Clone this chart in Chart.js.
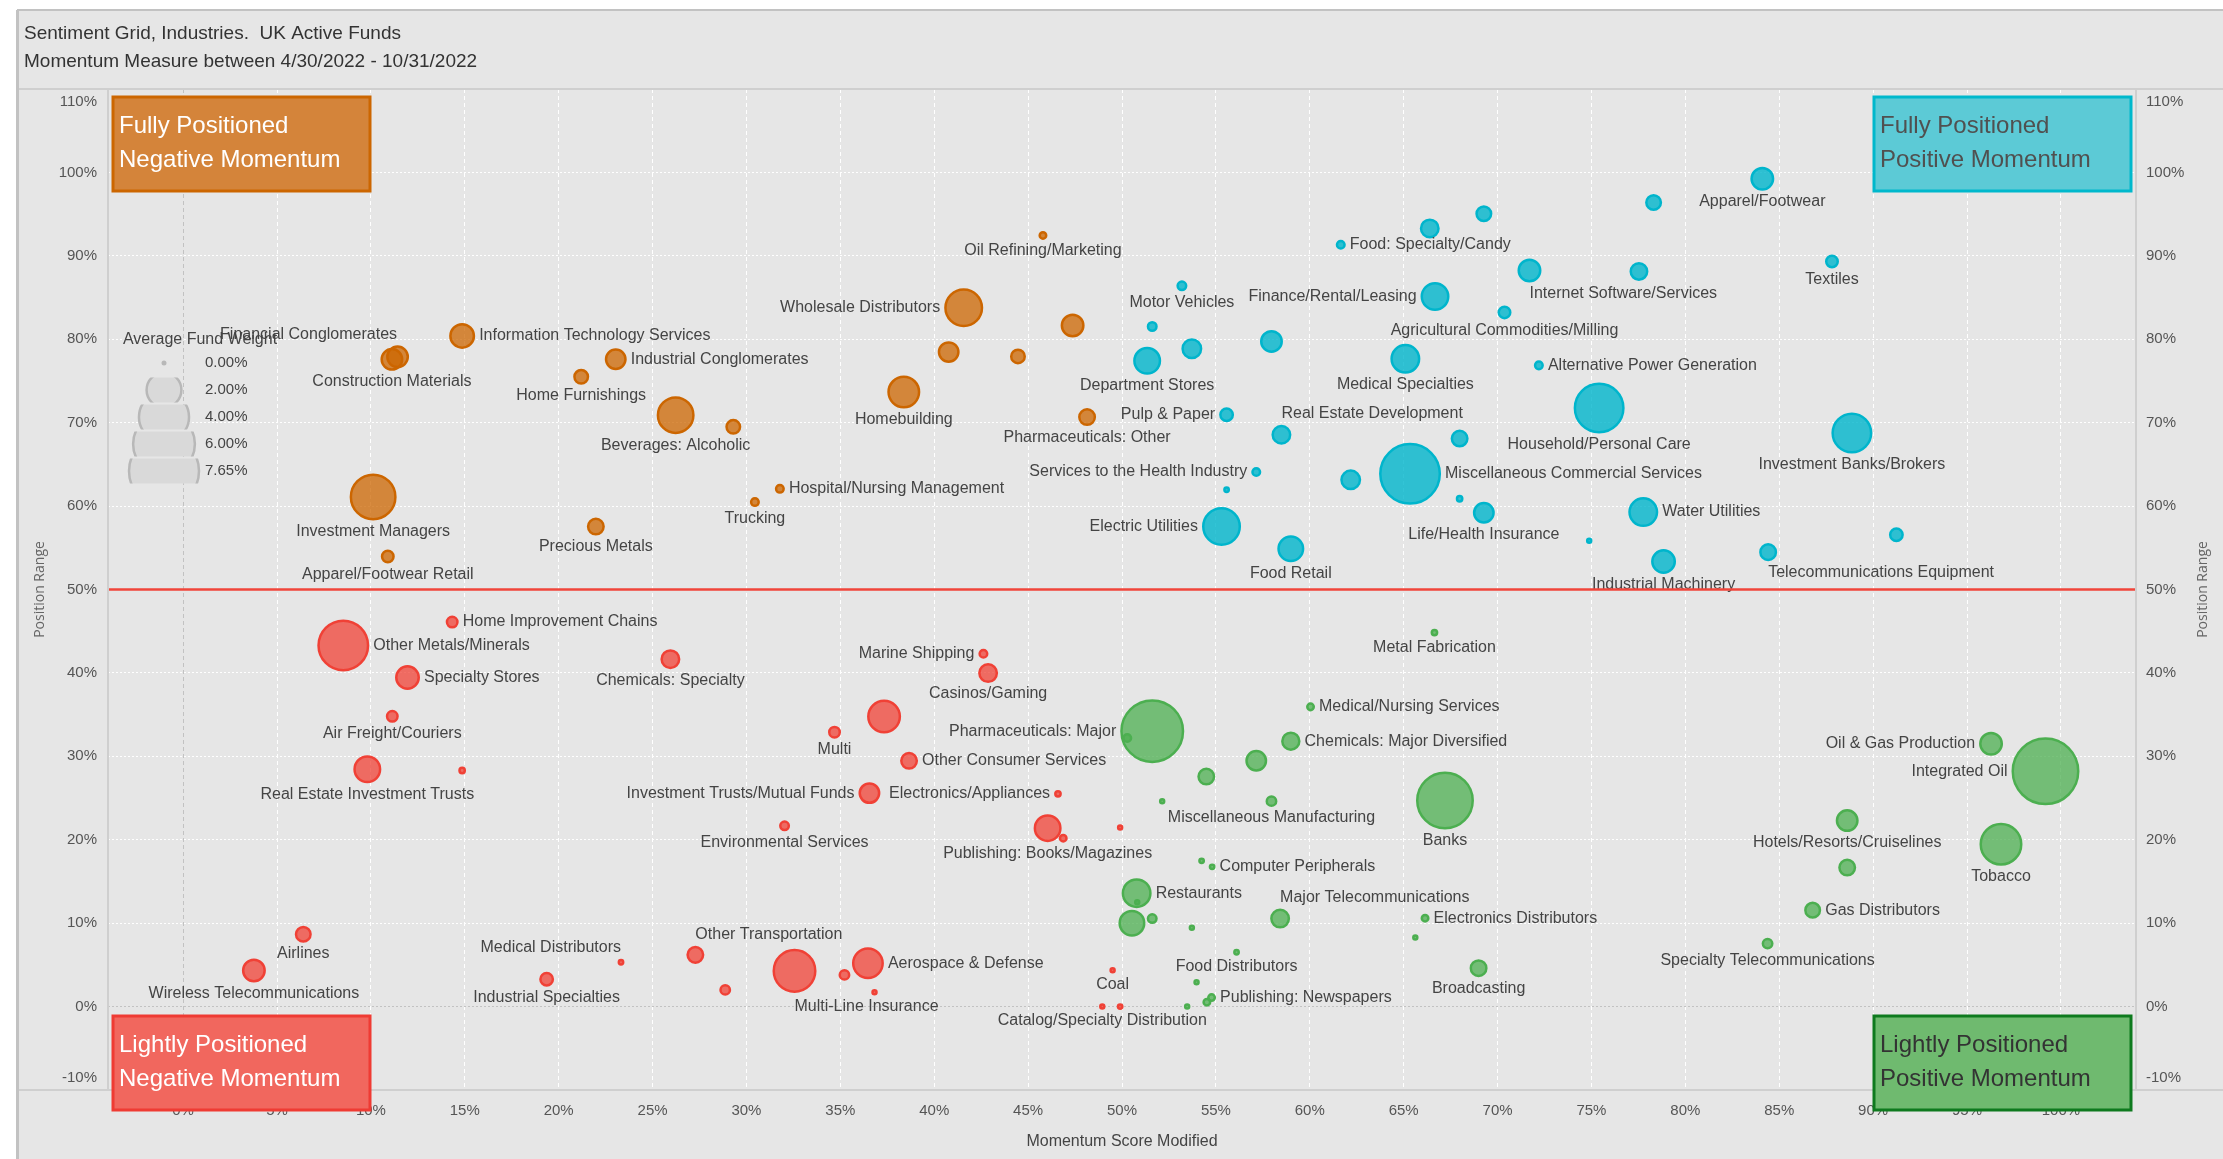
<!DOCTYPE html>
<html>
<head>
<meta charset="utf-8">
<script src="https://cdn.jsdelivr.net/npm/chart.js@4.4.1/dist/chart.umd.min.js"></script>
<style>
  html, body { margin: 0; padding: 0; background: #fff; }
  #wrap { width: 2223px; height: 1159px; }
</style>
</head>
<body>
<div id="wrap"><canvas id="grid" width="2223" height="1159"></canvas></div>
<script>
// Sentiment grid data: industry, momentum score (x), position range (y), average fund weight
var industries = [
  // fully positioned, negative momentum
  'Financial Conglomerates', 'Construction Materials', 'Information Technology Services', 'Industrial Conglomerates',
  'Home Furnishings', 'Beverages: Alcoholic', '', 'Investment Managers', 'Precious Metals', 'Apparel/Footwear Retail',
  'Hospital/Nursing Management', 'Trucking', 'Wholesale Distributors', '', '', '', 'Homebuilding',
  'Pharmaceuticals: Other', 'Oil Refining/Marketing',
  // fully positioned, positive momentum
  'Motor Vehicles', '', '', 'Department Stores', '', 'Finance/Rental/Leasing', 'Food: Specialty/Candy', '', '',
  'Medical Specialties', 'Agricultural Commodities/Milling', 'Pulp & Paper', 'Real Estate Development', '',
  'Services to the Health Industry', '', 'Electric Utilities', 'Food Retail', '', 'Miscellaneous Commercial Services', '',
  'Life/Health Insurance', 'Apparel/Footwear', '', 'Textiles', 'Internet Software/Services', '',
  'Alternative Power Generation', 'Household/Personal Care', 'Investment Banks/Brokers', 'Water Utilities', '',
  'Industrial Machinery', 'Telecommunications Equipment', '',
  // lightly positioned, negative momentum
  'Home Improvement Chains', 'Other Metals/Minerals', 'Specialty Stores', 'Chemicals: Specialty', 'Air Freight/Couriers',
  'Real Estate Investment Trusts', '', 'Airlines', 'Wireless Telecommunications', 'Industrial Specialties',
  'Medical Distributors', 'Other Transportation', '', 'Marine Shipping', 'Casinos/Gaming', '', 'Multi',
  'Other Consumer Services', 'Investment Trusts/Mutual Funds', 'Electronics/Appliances', 'Environmental Services',
  'Publishing: Books/Magazines', '', '', '', '', 'Aerospace & Defense', 'Multi-Line Insurance', 'Coal',
  'Catalog/Specialty Distribution', '',
  // lightly positioned, positive momentum
  'Pharmaceuticals: Major', '', 'Medical/Nursing Services', 'Chemicals: Major Diversified', '', '', '',
  'Miscellaneous Manufacturing', 'Banks', 'Metal Fabrication', '', 'Computer Peripherals', 'Restaurants', '', '', '', '',
  'Major Telecommunications', 'Electronics Distributors', '', 'Food Distributors', '', '', '', 'Publishing: Newspapers',
  'Broadcasting', 'Oil & Gas Production', 'Integrated Oil', 'Hotels/Resorts/Cruiselines', 'Tobacco', '',
  'Gas Distributors', 'Specialty Telecommunications'
];

var momentum = [
  11.42, 11.12, 14.86, 23.04, 21.2, 26.23, 29.3, 10.12, 21.98, 10.9, 31.78, 30.45, 41.57, 47.37, 40.77, 44.46, 38.38, 48.14, 45.79,
  53.19, 51.61, 53.72, 51.34, 57.96, 66.67, 61.65, 66.39, 69.27, 65.09, 70.37, 55.57, 58.49, 67.98, 57.15, 55.57, 55.3, 58.99,
  62.18, 65.34, 67.98, 69.27, 84.1, 78.31, 87.81, 71.7, 77.53, 72.2, 75.41, 88.87, 77.76, 74.88, 78.84, 84.41, 91.24,
  14.33, 8.53, 11.95, 25.95, 11.14, 9.81, 14.86, 6.4, 3.77, 19.36, 23.32, 27.28, 28.87, 42.62, 42.87, 37.33, 34.69, 38.66,
  36.55, 46.59, 32.03, 46.04, 46.87, 49.9, 32.56, 35.22, 36.47, 36.82, 49.5, 48.95, 49.9,
  51.61, 50.28, 60.04, 58.99, 57.15, 54.49, 52.14, 57.96, 67.2, 66.64, 54.24, 54.8, 50.78, 50.81, 50.53, 51.61, 53.72,
  58.42, 66.14, 65.62, 56.1, 53.47, 53.97, 54.52, 54.77, 68.99, 96.28, 99.18, 88.62, 96.81, 88.62, 86.78, 84.38
];

var position = [
  77.9, 77.6, 80.4, 77.6, 75.5, 70.9, 69.5, 61.1, 57.55, 53.95, 62.07, 60.48, 83.78, 81.65, 78.46, 77.94, 73.67, 70.67, 92.45,
  86.41, 81.53, 78.86, 77.42, 79.74, 85.13, 91.33, 93.29, 95.05, 77.66, 83.22, 70.95, 68.55, 68.1, 64.08, 61.95, 57.55, 54.88,
  63.15, 63.87, 60.88, 59.2, 99.25, 96.4, 89.33, 88.25, 88.13, 76.87, 71.75, 68.75, 59.28, 55.84, 53.36, 54.48, 56.56,
  46.1, 43.3, 39.45, 41.65, 34.8, 28.45, 28.3, 8.68, 4.32, 3.28, 5.32, 6.2, 2.0, 42.3, 39.98, 34.77, 32.9, 29.46,
  25.59, 25.5, 21.67, 21.39, 20.19, 21.46, 4.28, 3.8, 5.2, 1.73, 4.36, 0, 0,
  33.02, 32.2, 35.93, 31.82, 29.46, 27.58, 24.63, 24.63, 24.7, 44.84, 17.47, 16.75, 13.6, 12.52, 10.0, 10.55, 9.44,
  10.55, 10.6, 8.27, 6.52, 0, 2.92, 0.53, 1.08, 4.6, 31.5, 28.2, 22.3, 19.47, 16.67, 11.56, 7.55
];

var fundWeight = [
  0.78, 0.78, 1.0, 0.71, 0.38, 2.13, 0.38, 3.26, 0.48, 0.29, 0.15, 0.15, 2.25, 0.85, 0.71, 0.38, 1.61, 0.48, 0.12,
  0.18, 0.18, 0.65, 1.16, 0.78, 1.24, 0.15, 0.59, 0.43, 1.33, 0.29, 0.33, 0.59, 0.48, 0.15, 0.07, 2.25, 1.08,
  0.65, 5.67, 0.09, 0.71, 0.85, 0.43, 0.29, 0.85, 0.53, 0.15, 3.84, 2.48, 1.33, 0.05, 0.92, 0.48, 0.33,
  0.25, 3.99, 0.92, 0.59, 0.25, 1.16, 0.09, 0.43, 0.85, 0.33, 0.07, 0.48, 0.21, 0.15, 0.59, 1.71, 0.25, 0.48,
  0.71, 0.09, 0.18, 1.16, 0.12, 0.04, 2.86, 0.21, 1.51, 0.05, 0.05, 0.05, 0.07,
  6.05, 0.15, 0.12, 0.56, 0.71, 0.48, 0.05, 0.21, 4.96, 0.09, 0.07, 0.07, 1.33, 0.05, 1.08, 0.18, 0.05,
  0.59, 0.12, 0.05, 0.07, 0.05, 0.05, 0.12, 0.12, 0.48, 0.85, 6.82, 0.78, 2.73, 0.48, 0.43, 0.21
];

var xTicks = [0, 5, 10, 15, 20, 25, 30, 35, 40, 45, 50, 55, 60, 65, 70, 75, 80, 85, 90, 95, 100];
var yTicks = [-10, 0, 10, 20, 30, 40, 50, 60, 70, 80, 90, 100, 110];
var legendWeights = [0, 2, 4, 6, 7.65];
var midLine = 50;

// label placement around the bubble (r/l/b/t, br/tr/tl = anchored at bubble centre)
var labelPlacement = {
  'Financial Conglomerates': ['t', -89], 'Construction Materials': ['b'], 'Home Furnishings': ['b'],
  'Beverages: Alcoholic': ['b'], 'Investment Managers': ['b'], 'Precious Metals': ['b'], 'Apparel/Footwear Retail': ['b'],
  'Trucking': ['b'], 'Wholesale Distributors': ['l'], 'Homebuilding': ['b'], 'Pharmaceuticals: Other': ['b'],
  'Oil Refining/Marketing': ['b'], 'Motor Vehicles': ['b'], 'Department Stores': ['b'], 'Finance/Rental/Leasing': ['l'],
  'Medical Specialties': ['b'], 'Agricultural Commodities/Milling': ['b'], 'Pulp & Paper': ['l'],
  'Real Estate Development': ['tr'], 'Services to the Health Industry': ['l'], 'Electric Utilities': ['l'],
  'Food Retail': ['b'], 'Life/Health Insurance': ['b'], 'Apparel/Footwear': ['b'], 'Textiles': ['b'],
  'Internet Software/Services': ['br'], 'Household/Personal Care': ['b'], 'Investment Banks/Brokers': ['b'],
  'Industrial Machinery': ['b'], 'Telecommunications Equipment': ['br'],
  'Chemicals: Specialty': ['b'], 'Air Freight/Couriers': ['b'], 'Real Estate Investment Trusts': ['b'], 'Airlines': ['b'],
  'Wireless Telecommunications': ['b'], 'Industrial Specialties': ['b'], 'Medical Distributors': ['tl'],
  'Other Transportation': ['tr'], 'Marine Shipping': ['l'], 'Casinos/Gaming': ['b'], 'Multi': ['b'],
  'Investment Trusts/Mutual Funds': ['l'], 'Electronics/Appliances': ['l'], 'Environmental Services': ['b'],
  'Publishing: Books/Magazines': ['b'], 'Multi-Line Insurance': ['b', -8], 'Coal': ['b'],
  'Catalog/Specialty Distribution': ['b'],
  'Pharmaceuticals: Major': ['l'], 'Miscellaneous Manufacturing': ['b'], 'Banks': ['b'], 'Metal Fabrication': ['b'],
  'Major Telecommunications': ['tr'], 'Food Distributors': ['b'], 'Broadcasting': ['b'], 'Oil & Gas Production': ['l'],
  'Integrated Oil': ['l'], 'Hotels/Resorts/Cruiselines': ['b'], 'Tobacco': ['b'], 'Specialty Telecommunications': ['b']
};

var SANS = "'Liberation Sans', Arial, sans-serif";

function radiusFor(w) {
  return Math.max(2, 36 * Math.sqrt(w / 7.65) - 1.25);
}

function pct(v) { return v + '%'; }

// 象限ごとの色
var quadrants = [
  { test: function(x, y) { return x < midLine && y >= midLine; }, fill: 'rgba(204,102,0,0.75)', border: '#cc6600',
    box: { fill: '#d4843a', stroke: '#cc6600', text: '#ffffff', side: 'left', vert: 'top', lines: ['Fully Positioned', 'Negative Momentum'] } },
  { test: function(x, y) { return x >= midLine && y >= midLine; }, fill: 'rgba(0,181,204,0.8)', border: '#00b5cc',
    box: { fill: '#5ccad6', stroke: '#00b8cc', text: '#505050', side: 'right', vert: 'top', lines: ['Fully Positioned', 'Positive Momentum'] } },
  { test: function(x, y) { return x < midLine && y < midLine; }, fill: 'rgba(240,65,54,0.75)', border: '#f04136',
    box: { fill: '#f1675e', stroke: '#ef3b33', text: '#ffffff', side: 'left', vert: 'bottom', lines: ['Lightly Positioned', 'Negative Momentum'] } },
  { test: function(x, y) { return x >= midLine && y < midLine; }, fill: 'rgba(76,175,80,0.75)', border: '#4caf50',
    box: { fill: '#6fba6f', stroke: '#0e7a1e', text: '#333333', side: 'right', vert: 'bottom', lines: ['Lightly Positioned', 'Positive Momentum'] } }
];

var datasets = quadrants.map(function(q) {
  var pts = [];
  industries.forEach(function(name, i) {
    if (q.test(momentum[i], position[i])) {
      pts.push({ x: momentum[i], y: position[i], w: fundWeight[i], name: name });
    }
  });
  // 大きい順に描いて小さいバブルを上にする
  pts.sort(function(a, b) { return b.w - a.w; });
  return {
    data: pts,
    backgroundColor: q.fill,
    borderColor: q.border,
    borderWidth: 2.5,
    radius: function(ctx) { return ctx.raw ? radiusFor(ctx.raw.w) : 2; }
  };
});

var labelPlugin = {
  id: 'bubbleLabels',
  afterDatasetsDraw: function(chart) {
    var ctx = chart.ctx;
    ctx.save();
    ctx.font = '16px ' + SANS;
    ctx.fillStyle = '#444444';
    ctx.textBaseline = 'middle';
    chart.data.datasets.forEach(function(ds, di) {
      var meta = chart.getDatasetMeta(di);
      meta.data.forEach(function(el, i) {
        var name = ds.data[i].name;
        if (!name) return;
        var p = labelPlacement[name] || ['r'];
        var R = el.options.radius + 1.25;
        var dx = p[1] || 0;
        var x = el.x, y = el.y;
        switch (p[0]) {
          case 'l': ctx.textAlign = 'right'; ctx.fillText(name, x - R - 4, y); break;
          case 'b': ctx.textAlign = 'center'; ctx.fillText(name, x + dx, y + R + 11); break;
          case 't': ctx.textAlign = 'center'; ctx.fillText(name, x + dx, y - R - 11); break;
          case 'br': ctx.textAlign = 'left'; ctx.fillText(name, x, y + R + 11); break;
          case 'tr': ctx.textAlign = 'left'; ctx.fillText(name, x, y - R - 11); break;
          case 'tl': ctx.textAlign = 'right'; ctx.fillText(name, x, y - R - 11); break;
          default: ctx.textAlign = 'left'; ctx.fillText(name, x + R + 4, y);
        }
      });
    });

    // 50% line
    var ya = chart.scales.y;
    var area = chart.chartArea;
    var py = ya.getPixelForValue(midLine);
    ctx.strokeStyle = '#f0453a';
    ctx.lineWidth = 2.5;
    ctx.beginPath();
    ctx.moveTo(area.left, py);
    ctx.lineTo(area.right, py);
    ctx.stroke();
    ctx.restore();
  }
};

var framePlugin = {
  id: 'frame',
  beforeDraw: function(chart) {
    var ctx = chart.ctx;
    ctx.save();
    ctx.fillStyle = '#ffffff';
    ctx.fillRect(0, 0, chart.width, chart.height);
    ctx.fillStyle = '#e6e6e6';
    ctx.fillRect(17, 10, chart.width - 17, chart.height - 10);
    ctx.restore();
  },
  afterDraw: function(chart) {
    var ctx = chart.ctx;
    var a = chart.chartArea;
    var ya = chart.scales.y;
    ctx.save();

    // frame lines
    ctx.strokeStyle = '#cfcfcf';
    ctx.lineWidth = 2;
    ctx.beginPath();
    ctx.moveTo(17, a.top); ctx.lineTo(chart.width, a.top);
    ctx.moveTo(17, a.bottom); ctx.lineTo(chart.width, a.bottom);
    ctx.moveTo(a.left, a.top); ctx.lineTo(a.left, a.bottom);
    ctx.moveTo(a.right, a.top); ctx.lineTo(a.right, a.bottom);
    ctx.stroke();
    ctx.strokeStyle = '#c2c2c2';
    ctx.lineWidth = 3;
    ctx.beginPath();
    ctx.moveTo(17.5, 10); ctx.lineTo(17.5, chart.height);
    ctx.stroke();
    ctx.lineWidth = 2;
    ctx.beginPath();
    ctx.moveTo(17, 10); ctx.lineTo(chart.width, 10);
    ctx.stroke();

    // end tick labels sit just inside the plot edges
    var yMin = yTicks[0], yMax = yTicks[yTicks.length - 1];
    ctx.fillStyle = '#555555';
    ctx.font = '15px ' + SANS;
    ctx.textBaseline = 'middle';
    [[yMax, 13], [yMin, -12]].forEach(function(t) {
      var py = ya.getPixelForValue(t[0]) + t[1];
      ctx.textAlign = 'right';
      ctx.fillText(pct(t[0]), a.left - 11, py);
      ctx.textAlign = 'left';
      ctx.fillText(pct(t[0]), a.right + 10, py);
    });

    // title
    ctx.fillStyle = '#333333';
    ctx.font = '19px ' + SANS;
    ctx.textAlign = 'left';
    ctx.fillText('Sentiment Grid, Industries.  UK Active Funds', 24, 34);
    ctx.fillText('Momentum Measure between 4/30/2022 - 10/31/2022', 24, 62);

    // axis titles
    var midY = (a.top + a.bottom) / 2;
    ctx.fillStyle = '#666666';
    ctx.font = "14px 'Open Sans', sans-serif";
    ctx.textAlign = 'center';
    ctx.save();
    ctx.translate(40, midY);
    ctx.rotate(-Math.PI / 2);
    ctx.fillText('Position Range', 0, 0);
    ctx.restore();
    ctx.save();
    ctx.translate(2203, midY);
    ctx.rotate(-Math.PI / 2);
    ctx.fillText('Position Range', 0, 0);
    ctx.restore();
    ctx.fillStyle = '#444444';
    ctx.font = '16px ' + SANS;
    ctx.fillText('Momentum Score Modified', (a.left + a.right) / 2, 1142);

    // size legend
    var lx = 164, rowY = 363, gap = 27;
    ctx.fillStyle = '#444444';
    ctx.font = '16px ' + SANS;
    ctx.fillText('Average Fund Weight', 200, 340);
    legendWeights.forEach(function(w, i) {
      var cy = rowY + i * gap;
      if (w > 0) {
        var R = 36 * Math.sqrt(w / 7.65);
        ctx.save();
        ctx.beginPath();
        ctx.rect(lx - 45, cy - 12.5, 90, 25);
        ctx.clip();
        ctx.beginPath();
        ctx.arc(lx, cy, R - 1, 0, Math.PI * 2);
        ctx.fillStyle = '#d9d9d9';
        ctx.fill();
        ctx.strokeStyle = '#b8b8b8';
        ctx.lineWidth = 2.5;
        ctx.stroke();
        ctx.restore();
      } else {
        ctx.beginPath();
        ctx.arc(lx, cy, 2.5, 0, Math.PI * 2);
        ctx.fillStyle = '#b8b8b8';
        ctx.fill();
      }
      ctx.fillStyle = '#444444';
      ctx.font = '15px ' + SANS;
      ctx.textAlign = 'left';
      ctx.fillText(w.toFixed(2) + '%', 205, cy);
    });

    // quadrant boxes
    var bw = 257, bh = 94;
    quadrants.forEach(function(q) {
      var b = q.box;
      var bx = b.side === 'left' ? a.left + 5 : a.right - 5 - bw;
      var by = b.vert === 'top' ? a.top + 8 : a.bottom - 74;
      ctx.fillStyle = b.fill;
      ctx.fillRect(bx, by, bw, bh);
      ctx.strokeStyle = b.stroke;
      ctx.lineWidth = 3;
      ctx.strokeRect(bx, by, bw, bh);
      ctx.fillStyle = b.text;
      ctx.font = '24px ' + SANS;
      ctx.textAlign = 'left';
      ctx.fillText(b.lines[0], bx + 6, by + 29);
      ctx.fillText(b.lines[1], bx + 6, by + 63);
    });

    ctx.restore();
  }
};

function tickList(list) {
  return function(scale) {
    scale.ticks = list.map(function(v) { return { value: v }; });
  };
}

// the end labels are drawn by the frame plugin
function innerLabel(v) {
  return (v === yTicks[0] || v === yTicks[yTicks.length - 1]) ? '' : pct(v);
}

var tickFont = { family: SANS, size: 15 };

new Chart(document.getElementById('grid').getContext('2d'), {
  type: 'bubble',
  data: { datasets: datasets },
  options: {
    responsive: false,
    animation: false,
    devicePixelRatio: 1,
    layout: { padding: { top: 89, left: 0, right: 0, bottom: 0 } },
    plugins: {
      legend: { display: false },
      tooltip: { enabled: false },
      title: { display: false }
    },
    scales: {
      x: {
        type: 'linear',
        position: 'bottom',
        min: -4,
        max: 104,
        afterBuildTicks: tickList(xTicks),
        afterFit: function(s) { s.height = 69; },
        ticks: {
          autoSkip: false,
          padding: 12,
          color: '#555555',
          font: tickFont,
          callback: pct
        },
        grid: {
          color: function(c) { return c.tick && c.tick.value === 0 ? '#c2c2c2' : '#ffffff'; },
          lineWidth: 1,
          drawTicks: false
        },
        border: { display: false, dash: [4, 3] }
      },
      y: {
        type: 'linear',
        position: 'left',
        min: -10,
        max: 110,
        afterBuildTicks: tickList(yTicks),
        afterFit: function(s) { s.width = 108; },
        ticks: {
          autoSkip: false,
          padding: 11,
          color: '#555555',
          font: tickFont,
          callback: innerLabel
        },
        grid: {
          color: function(c) { return c.tick && c.tick.value === 0 ? '#c2c2c2' : '#ffffff'; },
          lineWidth: 1,
          drawTicks: false
        },
        border: { display: false, dash: [2, 2] }
      },
      y2: {
        type: 'linear',
        position: 'right',
        min: -10,
        max: 110,
        afterBuildTicks: tickList(yTicks),
        afterFit: function(s) { s.width = 87; },
        ticks: {
          autoSkip: false,
          padding: 10,
          color: '#555555',
          font: tickFont,
          callback: innerLabel
        },
        grid: { drawOnChartArea: false, drawTicks: false },
        border: { display: false }
      }
    }
  },
  plugins: [framePlugin, labelPlugin]
});
</script>
</body>
</html>
